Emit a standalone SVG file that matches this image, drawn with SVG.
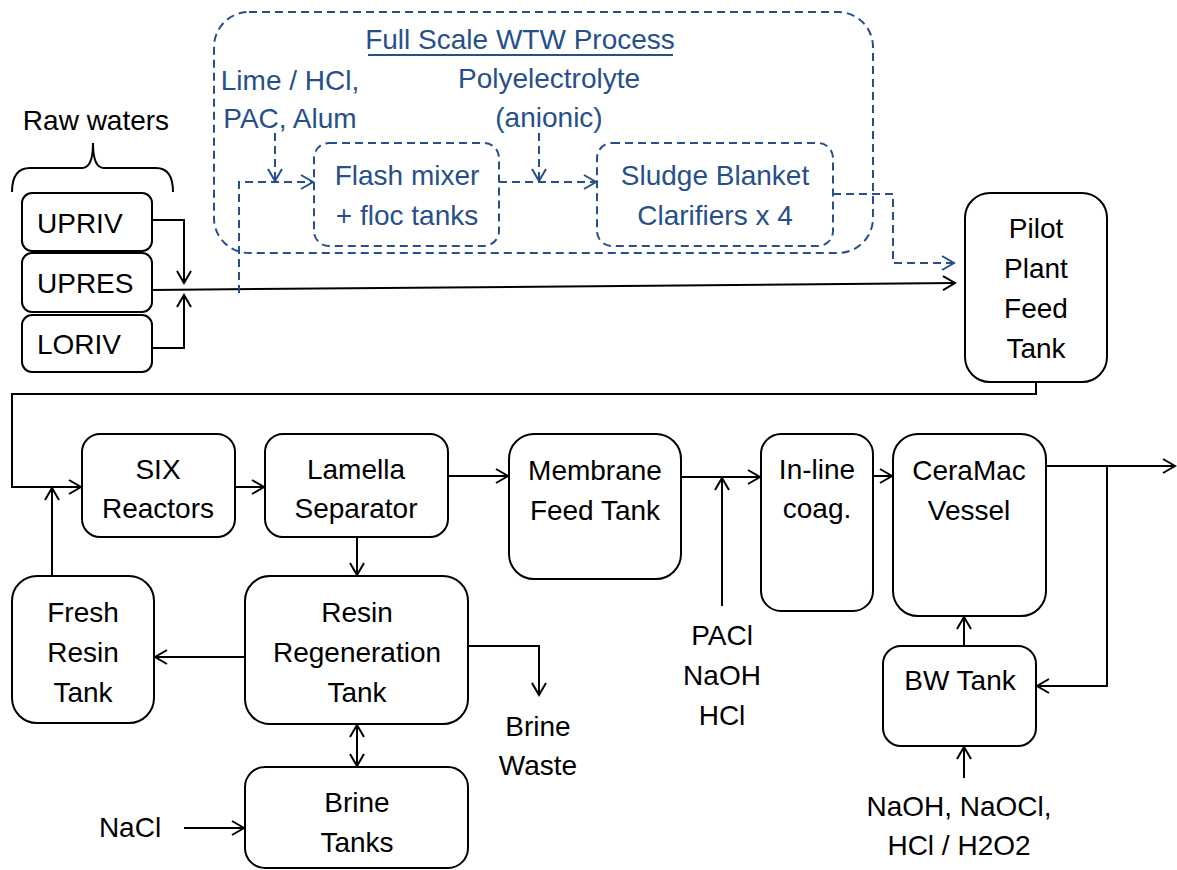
<svg xmlns="http://www.w3.org/2000/svg" width="1177" height="870" viewBox="0 0 1177 870">
<style>
  text { font-family: "Liberation Sans", Arial, sans-serif; font-size: 28px; }
  .t { fill: #000; text-anchor: middle; }
  .tl { fill: #000; text-anchor: start; }
  .b { fill: #27508A; text-anchor: middle; }
  .box { fill: #fff; stroke: #000; stroke-width: 2; }
  .dbox { fill: none; stroke: #27508A; stroke-width: 2; stroke-dasharray: 8 5; }
  .ln { fill: none; stroke: #000; stroke-width: 2; }
  .dl { fill: none; stroke: #27508A; stroke-width: 2; stroke-dasharray: 8 5; }
  .a { marker-end: url(#ah); }
  .da { marker-end: url(#bh); }
</style>
<defs>
  <marker id="ah" markerUnits="userSpaceOnUse" markerWidth="16" markerHeight="18" refX="12" refY="7" orient="auto-start-reverse" viewBox="-2 -2 16 18">
    <path d="M0,0 L12,7 L0,14" fill="none" stroke="#000" stroke-width="2"/>
  </marker>
  <marker id="bh" markerUnits="userSpaceOnUse" markerWidth="16" markerHeight="18" refX="12" refY="7" orient="auto" viewBox="-2 -2 16 18">
    <path d="M0,0 L12,7 L0,14" fill="none" stroke="#27508A" stroke-width="2"/>
  </marker>
</defs>

<!-- Full scale WTW process (dashed) -->
<g id="wtw">
  <rect class="dbox" x="214" y="12" width="659" height="241" rx="35"/>
  <text class="b" x="520" y="49">Full Scale WTW Process</text>
  <line x1="368" y1="55" x2="673" y2="55" stroke="#27508A" stroke-width="2"/>
  <text class="b" x="290" y="90">Lime / HCl,</text>
  <text class="b" x="290" y="128">PAC, Alum</text>
  <text class="b" x="549" y="88">Polyelectrolyte</text>
  <text class="b" x="549" y="127">(anionic)</text>
</g>
<g id="flash">
  <rect class="dbox" x="314" y="143" width="185" height="103" rx="15"/>
  <text class="b" x="407" y="185">Flash mixer</text>
  <text class="b" x="407" y="225">+ floc tanks</text>
</g>
<g id="sludge">
  <rect class="dbox" x="597" y="143" width="236" height="103" rx="15"/>
  <text class="b" x="715" y="185">Sludge Blanket</text>
  <text class="b" x="715" y="225">Clarifiers x 4</text>
</g>

<!-- Raw waters -->
<g id="raw">
  <text class="t" x="96" y="130">Raw waters</text>
  <path class="ln" d="M12,192 Q12,168 30,168 L82,168 Q93,168 93,143 Q93,168 104,168 L156,168 Q173,168 173,192"/>
</g>
<g id="upriv">
  <rect class="box" x="22" y="193" width="130" height="58" rx="10"/>
  <text class="tl" x="37" y="233">UPRIV</text>
</g>
<g id="upres">
  <rect class="box" x="22" y="253" width="130" height="59" rx="10"/>
  <text class="tl" x="37" y="293">UPRES</text>
</g>
<g id="loriv">
  <rect class="box" x="22" y="315" width="130" height="57" rx="10"/>
  <text class="tl" x="37" y="354">LORIV</text>
</g>

<g id="pilot">
  <rect class="box" x="965" y="193" width="142" height="189" rx="25"/>
  <text class="t" x="1036" y="238">Pilot</text>
  <text class="t" x="1036" y="278">Plant</text>
  <text class="t" x="1036" y="318">Feed</text>
  <text class="t" x="1036" y="358">Tank</text>
</g>

<g id="six">
  <rect class="box" x="82" y="434" width="153" height="103" rx="18"/>
  <text class="t" x="158" y="479">SIX</text>
  <text class="t" x="158" y="518">Reactors</text>
</g>
<g id="lamella">
  <rect class="box" x="265" y="434" width="183" height="103" rx="18"/>
  <text class="t" x="356" y="479">Lamella</text>
  <text class="t" x="356" y="518">Separator</text>
</g>
<g id="membrane">
  <rect class="box" x="509" y="434" width="172" height="145" rx="25"/>
  <text class="t" x="595" y="480">Membrane</text>
  <text class="t" x="595" y="520">Feed Tank</text>
</g>
<g id="inline">
  <rect class="box" x="761" y="434" width="112" height="177" rx="20"/>
  <text class="t" x="817" y="479">In-line</text>
  <text class="t" x="817" y="518">coag.</text>
</g>
<g id="ceramac">
  <rect class="box" x="893" y="434" width="153" height="182" rx="25"/>
  <text class="t" x="969" y="480">CeraMac</text>
  <text class="t" x="969" y="520">Vessel</text>
</g>
<g id="fresh">
  <rect class="box" x="12" y="576" width="142" height="147" rx="25"/>
  <text class="t" x="83" y="622">Fresh</text>
  <text class="t" x="83" y="662">Resin</text>
  <text class="t" x="83" y="702">Tank</text>
</g>
<g id="regen">
  <rect class="box" x="245" y="576" width="223" height="148" rx="25"/>
  <text class="t" x="357" y="622">Resin</text>
  <text class="t" x="357" y="662">Regeneration</text>
  <text class="t" x="357" y="702">Tank</text>
</g>
<g id="brine">
  <rect class="box" x="245" y="767" width="223" height="101" rx="20"/>
  <text class="t" x="357" y="812">Brine</text>
  <text class="t" x="357" y="852">Tanks</text>
</g>
<g id="bw">
  <rect class="box" x="883" y="646" width="153" height="100" rx="18"/>
  <text class="t" x="960" y="690">BW Tank</text>
</g>

<g id="labels">
  <text class="t" x="538" y="736">Brine</text>
  <text class="t" x="538" y="775">Waste</text>
  <text class="t" x="722" y="645">PACl</text>
  <text class="t" x="722" y="685">NaOH</text>
  <text class="t" x="722" y="725">HCl</text>
  <text class="t" x="130" y="837">NaCl</text>
  <text class="t" x="959" y="816">NaOH, NaOCl,</text>
  <text class="t" x="959" y="855">HCl / H2O2</text>
</g>

<g id="connectors">
  <!-- raw waters -->
  <polyline class="ln a" points="152,220 184,220 184,283"/>
  <polyline class="ln a" points="152,348 184,348 184,295"/>
  <line class="ln a" x1="152" y1="290" x2="955" y2="283"/>
  <!-- WTW dashed -->
  <polyline class="dl da" points="239,293 239,182 313,182"/>
  <polyline class="dl da" points="275,133 275,181"/>
  <polyline class="dl da" points="499,182 596,182"/>
  <polyline class="dl da" points="539,133 539,181"/>
  <polyline class="dl da" points="833,194 893,194 893,263 954,263"/>
  <!-- pilot to SIX -->
  <polyline class="ln a" points="1036,382 1036,394 12,394 12,487 81,487"/>
  <polyline class="ln a" points="52,576 52,488"/>
  <line class="ln a" x1="235" y1="487" x2="264" y2="487"/>
  <line class="ln a" x1="448" y1="476" x2="508" y2="476"/>
  <line class="ln a" x1="357" y1="537" x2="357" y2="575"/>
  <line class="ln a" x1="681" y1="477" x2="760" y2="477"/>
  <line class="ln a" x1="722" y1="606" x2="722" y2="478"/>
  <line class="ln a" x1="873" y1="476" x2="892" y2="476"/>
  <line class="ln a" x1="1046" y1="466" x2="1175" y2="466"/>
  <polyline class="ln a" points="1107,466 1107,686 1037,686"/>
  <line class="ln a" x1="964" y1="646" x2="964" y2="617"/>
  <line class="ln a" x1="964" y1="778" x2="964" y2="747"/>
  <line class="ln a" x1="245" y1="657" x2="155" y2="657"/>
  <polyline class="ln a" points="468,646 539,646 539,695"/>
  <line class="ln a" style="marker-start:url(#ah)" x1="357" y1="725" x2="357" y2="766"/>
  <line class="ln a" x1="184" y1="828" x2="244" y2="828"/>
</g>
</svg>
